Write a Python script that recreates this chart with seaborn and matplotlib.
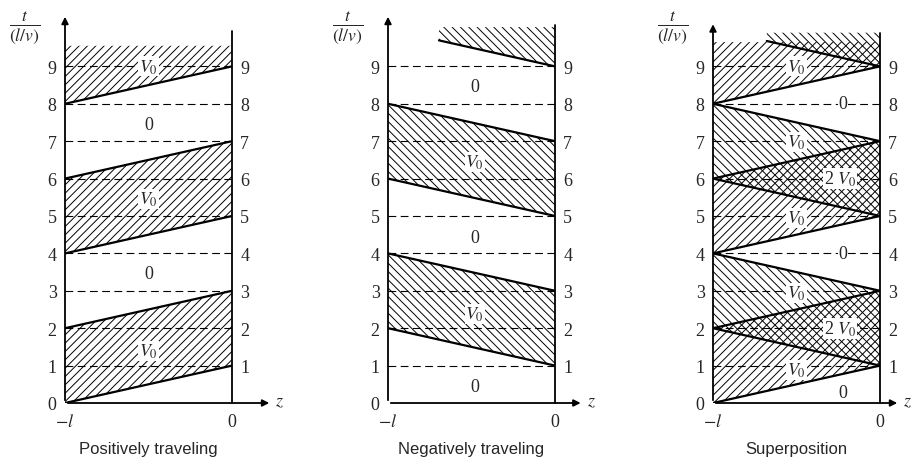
import numpy as np
import pandas as pd
import matplotlib.pyplot as plt
import seaborn as sns

sns.set_theme(style='white')
plt.rcParams['font.family'] = ['Liberation Serif', 'DejaVu Serif']
plt.rcParams['mathtext.fontset'] = 'stix'
plt.rcParams['hatch.linewidth'] = 0.7

# data (time in units of l/v, z from -l to 0)
panel_titles = ['Positively traveling', 'Negatively traveling', 'Superposition']
t_ticks = [0, 1, 2, 3, 4, 5, 6, 7, 8, 9]
pulse_len = 2
# front of each +z pulse leaves z=-l at these times
pos_starts = [0, 4, 8]
# front of each -z pulse leaves z=0 at these times (edge at z=-l is one unit later)
neg_starts = [1, 5, 9]
# where the drawing is cut off at the top
pos_cap = [9.55, None, 9.65]
neg_cap = [None, 10.05, 9.9]
neg_cut_s = [None, 0.3, 0.32]
axis_top = [10.4, 10.4, 10.2]
right_top = [9.95, 10.1, 9.9]
z_arrow_end = [0.24, 0.17, 0.12]

labels = [
    [(0.5, 9.0, '$V_0$'), (0.5, 7.45, '0'), (0.5, 5.45, '$V_0$'),
     (0.5, 3.45, '0'), (0.5, 1.4, '$V_0$')],
    [(0.52, 8.47, '0'), (0.52, 6.45, '$V_0$'), (0.52, 4.43, '0'),
     (0.52, 2.38, '$V_0$'), (0.52, 0.43, '0')],
    [(0.5, 9.0, '$V_0$'), (0.78, 8.0, '0'), (0.5, 6.97, '$V_0$'),
     (0.76, 6.0, '2 $V_0$'), (0.5, 4.95, '$V_0$'), (0.78, 4.0, '0'),
     (0.5, 2.95, '$V_0$'), (0.76, 2.0, '2 $V_0$'), (0.5, 0.88, '$V_0$'),
     (0.78, 0.27, '0')],
]

fig = plt.figure(figsize=(9.19, 4.6), dpi=100)
lefts = [65, 388, 713]
s = np.linspace(0, 1, 60)
z = s - 1

for i, left in enumerate(lefts):
    ax = fig.add_axes([left / 919, 1 - 404 / 460, 167 / 919, (404 - 15) / 460])
    ax.set_xlim(-1, 0)
    ax.set_ylim(0, 10.4)
    for sp in ax.spines.values():
        sp.set_visible(False)

    # dashed reference lines
    ax.hlines(t_ticks[1:], -1, 0, colors='black', lw=0.8, linestyles=(0, (7, 4)))

    edges = []
    if i in (0, 2):
        for k, t0 in enumerate(pos_starts):
            lo = t0 + s
            hi = t0 + pulse_len + s
            if k == len(pos_starts) - 1:
                hi = np.full_like(s, pos_cap[i])
            else:
                edges.append((z, hi))
            edges.append((z, lo))
            ax.fill_between(z, lo, hi, facecolor='none', edgecolor='black',
                            hatch='////', linewidth=0)
    if i in (1, 2):
        for k, t0 in enumerate(neg_starts):
            lo = t0 + 1 - s
            hi = t0 + 1 + pulse_len - s
            if k == len(neg_starts) - 1:
                m = s >= neg_cut_s[i]
                lo = lo[m]
                zz = z[m]
                hi = np.full_like(lo, neg_cap[i])
                ax.fill_between(zz, lo, hi, facecolor='none', edgecolor='black',
                                hatch='\\\\\\\\', linewidth=0)
                edges.append((zz, lo))
                continue
            edges.append((z, lo))
            edges.append((z, hi))
            ax.fill_between(z, lo, hi, facecolor='none', edgecolor='black',
                            hatch='\\\\\\\\', linewidth=0)

    df = pd.concat([pd.DataFrame({'z': ex, 't': ey, 'edge': n})
                    for n, (ex, ey) in enumerate(edges)])
    sns.lineplot(data=df, x='z', y='t', units='edge', estimator=None,
                 color='black', lw=1.6, ax=ax, legend=False)

    # axes lines
    ax.plot([0, 0], [0, right_top[i]], color='black', lw=1.3, clip_on=False)
    ax.annotate('', xy=(-1, axis_top[i]), xytext=(-1, 0),
                arrowprops=dict(arrowstyle='-|>', color='black', lw=1.3,
                                mutation_scale=10), annotation_clip=False)
    ax.annotate('', xy=(z_arrow_end[i], 0), xytext=(-1, 0),
                arrowprops=dict(arrowstyle='-|>', color='black', lw=1.3,
                                mutation_scale=10), annotation_clip=False)
    ax.text(z_arrow_end[i] + 0.02, 0.05, '$z$', fontsize=13, va='center',
            ha='left')

    ax.set_yticks(t_ticks)
    ax.set_yticklabels([str(t) for t in t_ticks])
    ax.set_xticks([-1, 0])
    ax.set_xticklabels(['$-l$', '0'])
    ax.tick_params(axis='y', length=0, pad=6, labelsize=13, labelright=True)
    ax.tick_params(axis='x', length=0, pad=7, labelsize=13)
    ax.yaxis.get_major_ticks()[0].label2.set_visible(False)
    ax.set_xlabel(panel_titles[i], family='Liberation Sans', fontsize=12,
                  labelpad=8)
    ax.set_ylabel('')

    ax.text(-1.24, 10.05, r'$\frac{t}{(l/v)}$', fontsize=18, ha='center',
            va='center')

    for (sx, ty, txt) in labels[i]:
        ax.text(sx - 1, ty, txt, fontsize=13, ha='center', va='center',
                bbox=dict(facecolor='white', edgecolor='none', pad=0.5))

fig.savefig('out.png', dpi=100)
